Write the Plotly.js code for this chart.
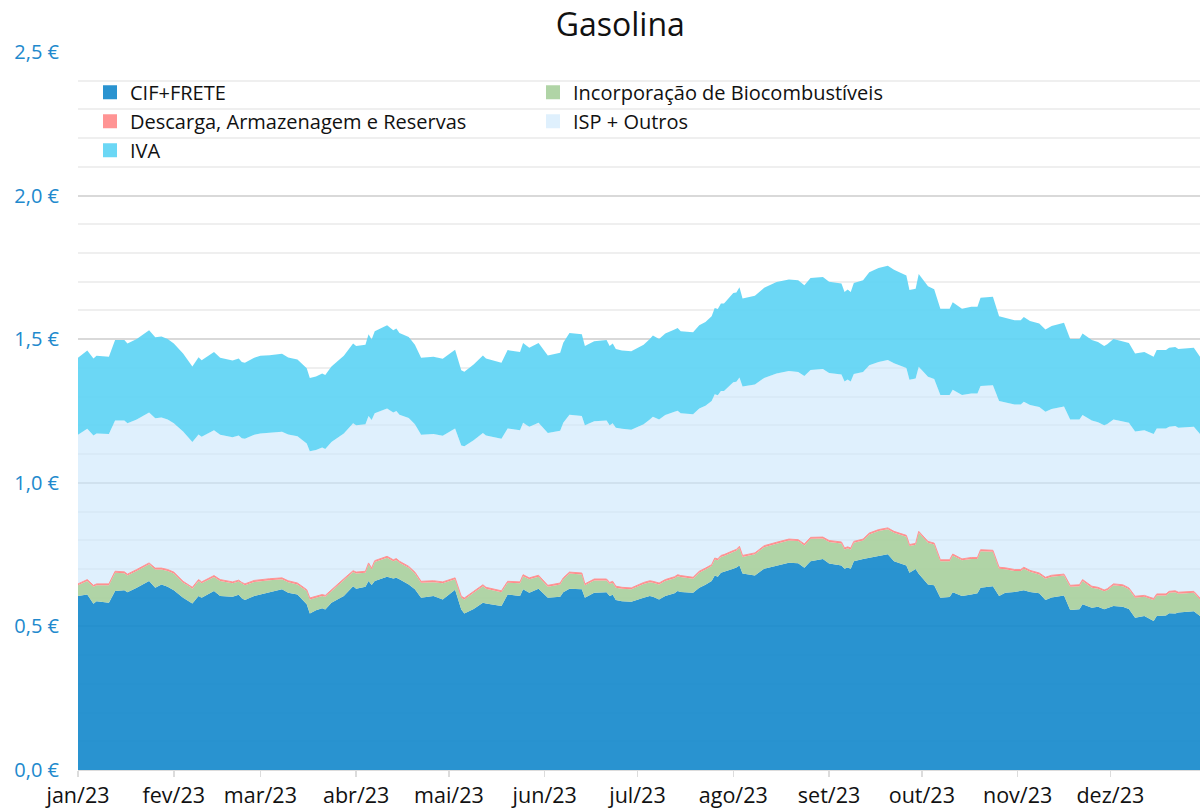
<!DOCTYPE html>
<html>
<head>
<meta charset="utf-8">
<script src="https://cdn.plot.ly/plotly-3.0.1.min.js"></script>
<style>
html, body { margin: 0; padding: 0; background: #ffffff; }
#chart { width: 1202px; height: 808px; }
</style>
</head>
<body>
<div id="chart"></div>
<script>
// ---- Data (€ per litre) ----
const dates = [
 '2023-01-01','2023-01-04','2023-01-06','2023-01-07','2023-01-11','2023-01-13','2023-01-16','2023-01-17','2023-01-20','2023-01-24','2023-01-26','2023-01-28','2023-01-30',
 '2023-02-01','2023-02-04','2023-02-06','2023-02-07','2023-02-09','2023-02-10','2023-02-14','2023-02-16','2023-02-20','2023-02-22','2023-02-23','2023-02-24','2023-02-27',
 '2023-03-01','2023-03-04','2023-03-08','2023-03-10','2023-03-13','2023-03-16','2023-03-17','2023-03-19','2023-03-21','2023-03-22','2023-03-24','2023-03-28','2023-03-31',
 '2023-04-01','2023-04-04','2023-04-05','2023-04-06','2023-04-07','2023-04-11','2023-04-13','2023-04-14','2023-04-15','2023-04-18','2023-04-20','2023-04-22','2023-04-26','2023-04-29',
 '2023-05-03','2023-05-05','2023-05-06','2023-05-09','2023-05-12','2023-05-13','2023-05-18','2023-05-20','2023-05-24','2023-05-25','2023-05-27','2023-05-30',
 '2023-06-02','2023-06-06','2023-06-07','2023-06-09','2023-06-13','2023-06-14','2023-06-17','2023-06-21','2023-06-22','2023-06-23','2023-06-24','2023-06-26','2023-06-29',
 '2023-07-03','2023-07-05','2023-07-06','2023-07-08','2023-07-10','2023-07-13','2023-07-14','2023-07-15','2023-07-19','2023-07-21','2023-07-23','2023-07-25','2023-07-26','2023-07-27','2023-07-28','2023-07-29',
 '2023-08-01','2023-08-02','2023-08-03','2023-08-04','2023-08-08','2023-08-11','2023-08-15','2023-08-19','2023-08-22','2023-08-24','2023-08-26','2023-08-30',
 '2023-09-01','2023-09-05','2023-09-06','2023-09-07','2023-09-08','2023-09-09','2023-09-12','2023-09-14','2023-09-17','2023-09-20','2023-09-22','2023-09-26','2023-09-27','2023-09-29','2023-09-30',
 '2023-10-03','2023-10-05','2023-10-07','2023-10-10','2023-10-11','2023-10-14','2023-10-17','2023-10-19','2023-10-20','2023-10-24','2023-10-26','2023-10-28','2023-10-31',
 '2023-11-02','2023-11-03','2023-11-05','2023-11-08','2023-11-10','2023-11-12','2023-11-16','2023-11-18','2023-11-21','2023-11-22','2023-11-25','2023-11-27','2023-11-29','2023-11-30',
 '2023-12-02','2023-12-05','2023-12-07','2023-12-09','2023-12-12','2023-12-15','2023-12-16','2023-12-19','2023-12-20','2023-12-22','2023-12-23','2023-12-28','2023-12-30'
];

const cifFrete = [
 0.606,0.611,0.579,0.588,0.582,0.623,0.626,0.619,0.635,0.658,0.635,0.646,0.638,
 0.626,0.600,0.588,0.580,0.606,0.600,0.623,0.606,0.603,0.610,0.598,0.592,0.606,
 0.612,0.619,0.629,0.617,0.611,0.577,0.545,0.556,0.563,0.559,0.582,0.606,0.640,
 0.631,0.638,0.658,0.644,0.658,0.673,0.667,0.669,0.664,0.646,0.629,0.600,0.606,0.594,
 0.628,0.559,0.545,0.561,0.582,0.580,0.571,0.611,0.606,0.629,0.617,0.631,
 0.600,0.603,0.619,0.631,0.629,0.600,0.617,0.619,0.606,0.610,0.592,0.588,0.586,
 0.600,0.606,0.603,0.594,0.606,0.615,0.623,0.620,0.617,0.635,0.645,0.658,0.677,0.673,0.687,0.690,
 0.701,0.705,0.712,0.684,0.677,0.701,0.712,0.722,0.720,0.704,0.727,0.735,
 0.719,0.712,0.701,0.705,0.701,0.727,0.735,0.738,0.745,0.751,0.727,0.712,0.687,0.700,0.683,
 0.646,0.643,0.600,0.602,0.619,0.606,0.611,0.615,0.635,0.640,0.606,0.617,0.620,
 0.623,0.626,0.620,0.615,0.592,0.601,0.608,0.557,0.560,0.577,0.565,0.568,0.560,0.563,
 0.571,0.568,0.561,0.530,0.536,0.519,0.536,0.538,0.546,0.545,0.548,0.553,0.536
];

const biocombustiveis = [
 0.037,0.047,0.059,0.055,0.061,0.064,0.059,0.058,0.058,0.058,0.063,0.052,0.055,
 0.058,0.052,0.052,0.051,0.052,0.050,0.049,0.052,0.047,0.046,0.050,0.051,0.049,
 0.046,0.042,0.035,0.037,0.035,0.046,0.049,0.044,0.043,0.044,0.041,0.055,0.049,
 0.053,0.049,0.058,0.054,0.066,0.066,0.060,0.062,0.058,0.058,0.055,0.052,0.048,0.056,
 0.036,0.041,0.049,0.056,0.058,0.051,0.048,0.041,0.044,0.046,0.047,0.042,
 0.038,0.043,0.045,0.053,0.052,0.043,0.043,0.041,0.042,0.042,0.043,0.043,0.043,
 0.048,0.048,0.049,0.052,0.052,0.053,0.052,0.052,0.049,0.052,0.053,0.052,0.056,0.057,0.055,0.055,
 0.058,0.058,0.062,0.058,0.074,0.075,0.076,0.077,0.077,0.078,0.078,0.071,
 0.075,0.077,0.067,0.067,0.067,0.064,0.064,0.082,0.087,0.087,0.099,0.100,0.093,0.084,0.143,
 0.145,0.142,0.127,0.125,0.128,0.124,0.124,0.120,0.127,0.120,0.095,0.082,0.073,
 0.070,0.075,0.070,0.066,0.074,0.072,0.069,0.081,0.080,0.081,0.070,0.063,0.062,0.063,
 0.072,0.072,0.068,0.070,0.067,0.073,0.072,0.070,0.071,0.074,0.066,0.064,0.058
];

const descarga = [
 0.005,0.005,0.005,0.005,0.005,0.005,0.005,0.005,0.005,0.005,0.005,0.005,0.005,
 0.005,0.005,0.005,0.005,0.005,0.005,0.005,0.005,0.005,0.005,0.005,0.005,0.005,
 0.005,0.005,0.005,0.005,0.005,0.005,0.005,0.005,0.005,0.005,0.005,0.005,0.005,
 0.005,0.005,0.005,0.005,0.005,0.005,0.005,0.005,0.005,0.005,0.005,0.005,0.005,0.005,
 0.005,0.005,0.005,0.005,0.005,0.005,0.005,0.005,0.005,0.005,0.005,0.005,
 0.005,0.005,0.005,0.005,0.005,0.005,0.005,0.005,0.005,0.005,0.005,0.005,0.005,
 0.005,0.005,0.005,0.005,0.005,0.005,0.005,0.005,0.005,0.005,0.005,0.005,0.005,0.005,0.005,0.005,
 0.005,0.005,0.005,0.005,0.005,0.005,0.005,0.005,0.005,0.005,0.005,0.005,
 0.005,0.005,0.005,0.005,0.005,0.005,0.005,0.005,0.005,0.005,0.005,0.005,0.005,0.005,0.005,
 0.005,0.005,0.005,0.005,0.005,0.005,0.005,0.005,0.005,0.005,0.005,0.005,0.005,
 0.005,0.005,0.005,0.005,0.005,0.005,0.005,0.005,0.005,0.005,0.005,0.005,0.005,0.005,
 0.005,0.005,0.005,0.005,0.005,0.005,0.005,0.005,0.005,0.005,0.005,0.005,0.005
];

const ispOutros = [
 0.519,0.525,0.522,0.524,0.522,0.525,0.527,0.525,0.522,0.524,0.522,0.524,0.522,
 0.518,0.522,0.510,0.506,0.505,0.505,0.506,0.504,0.504,0.504,0.502,0.505,0.507,
 0.509,0.508,0.509,0.509,0.511,0.509,0.511,0.509,0.512,0.510,0.514,0.506,0.513,
 0.511,0.512,0.512,0.516,0.513,0.515,0.513,0.514,0.510,0.517,0.515,0.510,0.511,0.509,
 0.520,0.525,0.528,0.526,0.528,0.529,0.529,0.532,0.528,0.529,0.526,0.531,
 0.530,0.530,0.540,0.548,0.547,0.552,0.549,0.552,0.547,0.550,0.552,0.552,0.551,
 0.551,0.561,0.573,0.569,0.573,0.574,0.571,0.565,0.568,0.567,0.565,0.570,0.570,0.570,0.573,0.570,
 0.586,0.584,0.588,0.588,0.586,0.584,0.588,0.585,0.584,0.585,0.583,0.585,
 0.583,0.583,0.580,0.583,0.580,0.583,0.582,0.584,0.584,0.585,0.585,0.583,0.574,0.574,0.573,
 0.573,0.571,0.574,0.574,0.572,0.571,0.571,0.571,0.570,0.575,0.579,0.576,0.575,
 0.575,0.576,0.576,0.578,0.576,0.579,0.584,0.577,0.575,0.573,0.577,0.575,0.573,0.574,
 0.572,0.569,0.575,0.574,0.575,0.573,0.576,0.576,0.573,0.574,0.573,0.573,0.571
];

const iva = [
 0.268,0.273,0.268,0.270,0.269,0.280,0.280,0.278,0.281,0.286,0.282,0.282,0.281,
 0.278,0.271,0.266,0.263,0.269,0.267,0.272,0.268,0.267,0.268,0.266,0.265,0.268,
 0.270,0.270,0.271,0.268,0.267,0.262,0.255,0.256,0.258,0.257,0.263,0.270,0.278,
 0.276,0.277,0.284,0.280,0.286,0.290,0.286,0.287,0.285,0.282,0.277,0.268,0.269,0.268,
 0.274,0.262,0.260,0.264,0.270,0.268,0.265,0.273,0.272,0.278,0.275,0.278,
 0.270,0.272,0.279,0.285,0.284,0.276,0.279,0.280,0.276,0.278,0.274,0.273,0.273,
 0.277,0.281,0.283,0.281,0.284,0.287,0.288,0.286,0.285,0.290,0.292,0.295,0.301,0.300,0.304,0.304,
 0.311,0.311,0.314,0.307,0.309,0.314,0.318,0.319,0.319,0.316,0.320,0.321,
 0.318,0.317,0.311,0.313,0.311,0.317,0.319,0.324,0.327,0.328,0.326,0.322,0.312,0.313,0.323,
 0.315,0.313,0.300,0.300,0.305,0.300,0.302,0.302,0.307,0.308,0.295,0.294,0.293,
 0.293,0.295,0.292,0.291,0.287,0.289,0.291,0.281,0.281,0.284,0.280,0.279,0.276,0.277,
 0.281,0.279,0.278,0.271,0.272,0.269,0.273,0.273,0.275,0.275,0.274,0.275,0.269
];

const seriesNames = ['CIF+FRETE', 'Incorporação de Biocombustíveis', 'Descarga, Armazenagem e Reservas', 'ISP + Outros', 'IVA'];
const tickDates = ['2023-01-01','2023-02-01','2023-03-01','2023-04-01','2023-05-01','2023-06-01','2023-07-01','2023-08-01','2023-09-01','2023-10-01','2023-11-01','2023-12-01'];
const tickLabels = ['jan/23','fev/23','mar/23','abr/23','mai/23','jun/23','jul/23','ago/23','set/23','out/23','nov/23','dez/23'];

// ---- Styling ----
const seriesValues = [cifFrete, biocombustiveis, descarga, ispOutros, iva];
seriesValues.forEach(function (s, i) {
  if (s.length !== dates.length) throw new Error('length mismatch ' + seriesNames[i] + ' ' + s.length + ' vs ' + dates.length);
});
const fillColors = ['rgba(18,135,203,0.9)', 'rgba(167,207,156,0.9)', 'rgba(255,140,140,1)', 'rgba(202,230,252,0.6)', 'rgba(91,211,244,0.9)'];
const legendColors = ['#2a93d0', '#b0d4a6', '#ff9494', '#dff0fd', '#6bd7f5'];
const lineWidths = [0, 0, 1, 0, 0];

const traces = [];
seriesValues.forEach(function (vals, i) {
  traces.push({
    type: 'scatter', mode: 'lines', x: dates, y: vals, name: seriesNames[i],
    stackgroup: 'one', fillcolor: fillColors[i],
    line: { width: lineWidths[i], color: legendColors[i], shape: 'linear' },
    showlegend: false, hoverinfo: 'skip'
  });
});
seriesNames.forEach(function (n, i) {
  traces.push({
    type: 'scatter', mode: 'markers', x: [null], y: [null], name: n,
    marker: { symbol: 'square', size: 14, color: legendColors[i], line: { width: 0 } },
    showlegend: true, hoverinfo: 'skip'
  });
});

const layout = {
  width: 1202, height: 808,
  margin: { l: 78, r: 2, t: 52, b: 38, pad: 0 },
  paper_bgcolor: '#ffffff', plot_bgcolor: '#ffffff',
  separators: ',.',
  font: { family: 'Open Sans, sans-serif', size: 20, color: '#111111' },
  title: { text: 'Gasolina', x: 0.516, xref: 'container', xanchor: 'center', y: 0.969, yref: 'container', yanchor: 'middle',
           font: { size: 32, color: '#111111' } },
  xaxis: {
    type: 'date', range: ['2023-01-01', '2023-12-30'],
    tickmode: 'array', tickvals: tickDates, ticktext: tickLabels,
    showgrid: false, zeroline: false, showline: true, linecolor: '#dcdcdc', linewidth: 1,
    ticks: 'outside', ticklen: 6, tickcolor: '#dcdcdc', tickwidth: 1.5,
    tickfont: { size: 21.5, color: '#111111' }, fixedrange: true
  },
  yaxis: {
    range: [0, 2.5], tick0: 0, dtick: 0.5, tickformat: '.1f', ticksuffix: ' €',
    showgrid: true, gridcolor: '#d9d9d9', gridwidth: 2,
    minor: { dtick: 0.1, showgrid: true, gridcolor: '#efefef', gridwidth: 2 },
    zeroline: false, showline: false, ticks: '', ticklabelstandoff: 18,
    tickfont: { size: 20, color: '#2189cd' }, fixedrange: true
  },
  showlegend: true,
  legend: {
    orientation: 'h', x: 0.0107, xanchor: 'left', y: 0.971, yanchor: 'top',
    entrywidth: 398, entrywidthmode: 'pixels', traceorder: 'normal',
    font: { size: 20, color: '#111111' }, bgcolor: 'rgba(0,0,0,0)', itemwidth: 30
  }
};

Plotly.newPlot('chart', traces, layout, { displayModeBar: false, staticPlot: true });
</script>
</body>
</html>
